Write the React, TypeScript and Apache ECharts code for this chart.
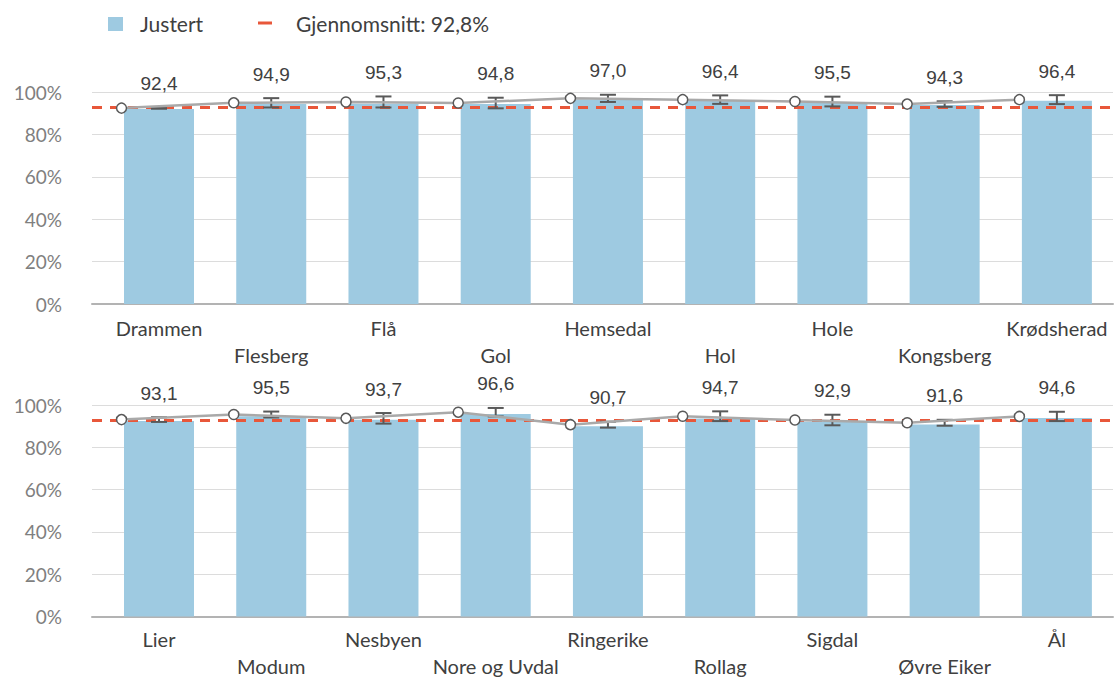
import React, { useEffect, useRef } from "react";
import * as echarts from "echarts";

const topCategories = ["Drammen", "Flesberg", "Flå", "Gol", "Hemsedal", "Hol", "Hole", "Kongsberg", "Krødsherad"];
const topObserved = [92.4, 94.9, 95.3, 94.8, 97.0, 96.4, 95.5, 94.3, 96.4];
const topAdjusted = [92.0, 94.3, 94.4, 94.3, 96.5, 96.2, 95.0, 93.9, 95.9];
const topError = [0.3, 2.2, 2.6, 2.5, 1.7, 2.0, 2.3, 1.3, 2.1];

const bottomCategories = ["Lier", "Modum", "Nesbyen", "Nore og Uvdal", "Ringerike", "Rollag", "Sigdal", "Øvre Eiker", "Ål"];
const bottomObserved = [93.1, 95.5, 93.7, 96.6, 90.7, 94.7, 92.9, 91.6, 94.6];
const bottomAdjusted = [92.4, 94.7, 93.0, 95.8, 90.0, 93.6, 92.1, 90.8, 93.9];
const bottomError = [1.1, 1.4, 2.5, 2.0, 1.4, 2.3, 2.5, 1.4, 2.2];

const yTicks = [0, 20, 40, 60, 80, 100];
const MEAN = 92.8;
const LEGEND_BAR = "Justert";
const LEGEND_MEAN = "Gjennomsnitt: 92,8%";

const BAR_COLOR = "#9ECAE1";
const RED = "#E8573A";
const DARK = "#595959";
const LINE_GRAY = "#A9A9A9";
const TEXT = "#404040";
const FONT = "Lato, 'Noto Sans', sans-serif";
const NUM_FONT = "'Liberation Sans', Arial, sans-serif";
const POINT_SHIFT = -0.334;

const fmt = (v: number) => v.toFixed(1).replace(".", ",");

function buildPanel(idx: number, cats: string[], obs: number[], adj: number[], err: number[]) {
  const bar = {
    type: "bar",
    xAxisIndex: idx,
    yAxisIndex: idx,
    barWidth: 70,
    itemStyle: { color: BAR_COLOR },
    data: adj.map((v, i) => [i, v]),
    z: 2,
    markLine: {
      silent: true,
      symbol: "none",
      label: { show: false },
      lineStyle: { color: RED, width: 3, type: [10, 8] },
      data: [{ yAxis: MEAN }],
      z: 3,
    },
  };
  const line = {
    type: "line",
    xAxisIndex: idx,
    yAxisIndex: idx,
    data: obs.map((v, i) => [i + POINT_SHIFT, v]),
    symbol: "circle",
    symbolSize: 10,
    showAllSymbol: true,
    lineStyle: { color: LINE_GRAY, width: 2.5 },
    itemStyle: { color: "#ffffff", borderColor: DARK, borderWidth: 1.5 },
    z: 5,
  };
  const errSeries = {
    type: "custom",
    xAxisIndex: idx,
    yAxisIndex: idx,
    z: 4,
    data: obs.map((v, i) => [i, v - err[i], v + err[i], v]),
    renderItem: (params: any, api: any) => {
      const x = api.value(0);
      const lo = api.coord([x, api.value(1)]);
      const hi = api.coord([x, api.value(2)]);
      const cx = lo[0];
      const w = 8;
      const st = { stroke: DARK, lineWidth: 2 };
      return {
        type: "group",
        children: [
          { type: "line", shape: { x1: cx, y1: lo[1], x2: cx, y2: hi[1] }, style: st },
          { type: "line", shape: { x1: cx - w, y1: lo[1], x2: cx + w, y2: lo[1] }, style: st },
          { type: "line", shape: { x1: cx - w, y1: hi[1], x2: cx + w, y2: hi[1] }, style: st },
          {
            type: "text",
            x: cx,
            y: hi[1] - 24,
            style: {
              text: fmt(api.value(3)),
              align: "center",
              verticalAlign: "middle",
              fontSize: 19,
              fontFamily: NUM_FONT,
              fill: TEXT,
            },
          },
        ],
      };
    },
  };
  return [bar, errSeries, line];
}

function xAxisFor(idx: number, cats: string[], margin: number) {
  return {
    type: "value",
    gridIndex: idx,
    min: -0.597,
    max: 8.5,
    splitLine: { show: false },
    axisTick: { show: false },
    axisLine: { show: true, onZero: false, lineStyle: { color: "#B3B3B3", width: 2 } },
    axisLabel: {
      customValues: cats.map((_, i) => i),
      formatter: (v: number) => {
        const i = Math.round(v);
        return (i % 2 === 1 ? "\n" : "") + (cats[i] ?? "");
      },
      margin,
      fontSize: 20,
      lineHeight: 27,
      fontFamily: FONT,
      color: TEXT,
      hideOverlap: false,
      showMinLabel: true,
      showMaxLabel: true,
    },
  };
}

function yAxisFor(idx: number) {
  return {
    type: "value",
    gridIndex: idx,
    min: yTicks[0],
    max: yTicks[yTicks.length - 1],
    interval: yTicks[1] - yTicks[0],
    axisLine: { show: false },
    axisTick: { show: false },
    splitLine: { lineStyle: { color: "#DCDCDC", width: 1 } },
    axisLabel: {
      formatter: "{value}%",
      fontSize: 19,
      fontFamily: FONT,
      color: "#7F7F7F",
      margin: 30,
    },
  };
}

export default function App() {
  const ref = useRef<HTMLDivElement>(null);
  useEffect(() => {
    if (!ref.current) return;
    const chart = echarts.init(ref.current, null, { renderer: "svg" });
    chart.setOption({
      animation: false,
      backgroundColor: "#ffffff",
      grid: [
        { left: 92, right: 7, top: 92, height: 212 },
        { left: 92, right: 7, top: 405, height: 214 },
      ],
      xAxis: [xAxisFor(0, topCategories, 10.5), xAxisFor(1, bottomCategories, 8.5)],
      yAxis: [yAxisFor(0), yAxisFor(1)],
      series: [
        ...buildPanel(0, topCategories, topObserved, topAdjusted, topError),
        ...buildPanel(1, bottomCategories, bottomObserved, bottomAdjusted, bottomError),
      ],
      graphic: [
        { type: "rect", left: 108, top: 17, shape: { width: 15, height: 14 }, style: { fill: BAR_COLOR } },
        {
          type: "text",
          x: 140,
          y: 23,
          style: { text: LEGEND_BAR, fontSize: 21, fontFamily: FONT, fill: TEXT, verticalAlign: "middle", align: "left" },
        },
        { type: "line", shape: { x1: 258, y1: 23, x2: 272, y2: 23 }, style: { stroke: RED, lineWidth: 3 } },
        {
          type: "text",
          x: 296,
          y: 23,
          style: { text: LEGEND_MEAN, fontSize: 21, fontFamily: FONT, fill: TEXT, verticalAlign: "middle", align: "left" },
        },
      ],
    });
    return () => chart.dispose();
  }, []);
  return (
    <div
      ref={ref}
      style={{ position: "fixed", left: 0, top: 0, width: 1120, height: 679, background: "#fff" }}
    />
  );
}
